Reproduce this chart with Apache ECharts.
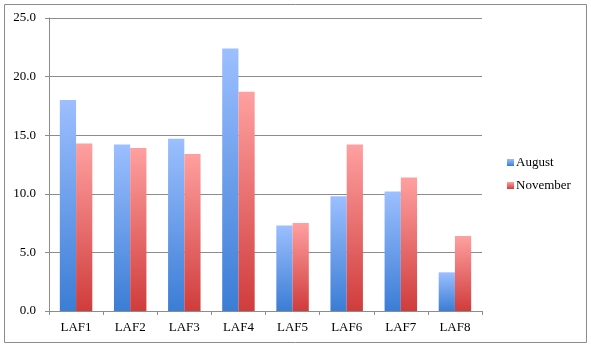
<!DOCTYPE html>
<html><head><meta charset="utf-8">
<script src="https://cdn.jsdelivr.net/npm/echarts@6/dist/echarts.min.js"></script>
<style>html,body{margin:0;padding:0;background:#fff}#c{width:591px;height:348px}</style>
</head><body><div id="c"></div>
<script>
const categories = ['LAF1','LAF2','LAF3','LAF4','LAF5','LAF6','LAF7','LAF8'];
const august = [18.0, 14.2, 14.7, 22.4, 7.3, 9.8, 10.2, 3.3];
const november = [14.3, 13.9, 13.4, 18.7, 7.5, 14.2, 11.4, 6.4];
const yTicks = [0, 5, 10, 15, 20, 25];

const font = 'Liberation Serif';
function grad(top, bottom){
  return new echarts.graphic.LinearGradient(0,0,0,1,[{offset:0,color:top},{offset:1,color:bottom}]);
}
const blue = grad('#9cbfff', '#3b7dd5');
const red = grad('#ffa0a0', '#d03c3c');

const chart = echarts.init(document.getElementById('c'), null, {renderer:'canvas'});
chart.setOption({
  animation:false,
  backgroundColor:'#fff',
  graphic:[{type:'rect', shape:{x:4.5,y:4.5,width:582,height:338}, style:{fill:'none', stroke:'#8c8c8c', lineWidth:1}, silent:true}],
  grid:{left:49, right:109, top:18, bottom:37},
  legend:{
    orient:'vertical', left:502, top:151, itemWidth:7, itemHeight:7, itemGap:10,
    icon:'rect',
    textStyle:{fontFamily:font, fontSize:13, color:'#000', padding:[0,0,0,-3]},
    data:['August','November']
  },
  xAxis:{
    type:'category', data:categories,
    axisLine:{lineStyle:{color:'#8c8c8c'}},
    axisTick:{show:true, length:4, lineStyle:{color:'#8c8c8c'}},
    axisLabel:{fontFamily:font, fontSize:13, color:'#000', margin:10}
  },
  yAxis:{
    type:'value', min:yTicks[0], max:yTicks[yTicks.length-1], interval:5,
    axisLine:{show:true, lineStyle:{color:'#8c8c8c'}},
    axisTick:{show:true, length:4, lineStyle:{color:'#8c8c8c'}},
    splitLine:{lineStyle:{color:'#8c8c8c'}},
    axisLabel:{fontFamily:font, fontSize:13, color:'#000', margin:13, formatter:v=>v.toFixed(1)}
  },
  series:[
    {name:'August', type:'bar', data:august, barGap:'0%', barCategoryGap:'40%', itemStyle:{color:blue}},
    {name:'November', type:'bar', data:november, barGap:'0%', barCategoryGap:'40%', itemStyle:{color:red}}
  ]
});
</script></body></html>
